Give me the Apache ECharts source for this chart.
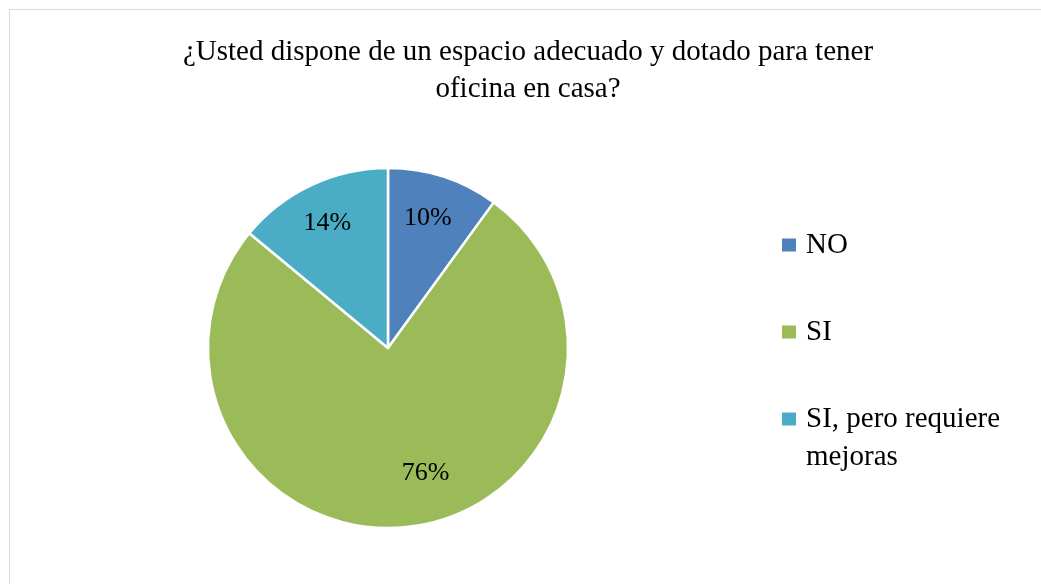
<!DOCTYPE html>
<html>
<head>
<meta charset="utf-8">
<script src="https://cdn.jsdelivr.net/npm/echarts@6/dist/echarts.min.js"></script>
<style>
  html, body { margin: 0; padding: 0; background: #fff; }
  #chart { width: 1041px; height: 584px; }
</style>
</head>
<body>
<div id="chart"></div>
<script>
var categories = ['NO', 'SI', 'SI, pero requiere\nmejoras'];
var values = [10, 76, 14];
var colors = ['#4F81BD', '#9BBB59', '#4BACC6'];
// nudge the in-slice labels out towards where the original put them
var labelOffsets = [[11, -41], [26, 33], [-21, -41]];

var serif = "'Liberation Serif', 'Times New Roman', serif";

var chart = echarts.init(document.getElementById('chart'));

var pieData = categories.map(function (name, i) {
    return {
        name: name,
        value: values[i],
        itemStyle: { color: colors[i] },
        label: { offset: labelOffsets[i] }
    };
});

var legendText = {
    fontFamily: serif,
    fontSize: 29,
    lineHeight: 36,
    color: '#000',
    padding: [0, 0, 0, 4]
};

var legendBase = {
    orient: 'vertical',
    left: 780,
    padding: 0,
    itemWidth: 16,
    itemHeight: 15,
    itemGap: 51,
    icon: 'rect',
    selectedMode: false,
    textStyle: legendText
};

chart.setOption({
    animation: false,
    backgroundColor: '#fff',
    graphic: [{
        type: 'rect',
        shape: { x: 9.5, y: 9.5, width: 1100, height: 700 },
        style: { fill: 'none', stroke: '#D9D9D9', lineWidth: 1 },
        silent: true
    }],
    title: {
        text: '¿Usted dispone de un espacio adecuado y dotado para tener\noficina en casa?',
        left: 528,
        top: 34,
        textAlign: 'center',
        padding: 0,
        textStyle: {
            fontFamily: serif,
            fontSize: 29,
            fontWeight: 'normal',
            color: '#000',
            lineHeight: 37
        }
    },
    legend: [
        Object.assign({}, legendBase, {
            top: 227,
            data: categories.slice(0, 2)
        }),
        // the wrapped entry gets its own legend so its icon sits by the first line
        Object.assign({}, legendBase, {
            top: 362,
            data: categories.slice(2),
            formatter: function (name) { return '\n' + name; },
            textStyle: Object.assign({}, legendText, { lineHeight: 38 })
        })
    ],
    series: [{
        type: 'pie',
        center: [388, 348],
        radius: 180,
        startAngle: 90,
        clockwise: true,
        avoidLabelOverlap: false,
        data: pieData,
        itemStyle: { borderColor: '#fff', borderWidth: 2.5 },
        label: {
            show: true,
            position: 'inside',
            formatter: '{c}%',
            fontFamily: serif,
            fontSize: 26,
            color: '#000'
        },
        labelLine: { show: false },
        emphasis: { disabled: true }
    }]
});
</script>
</body>
</html>
